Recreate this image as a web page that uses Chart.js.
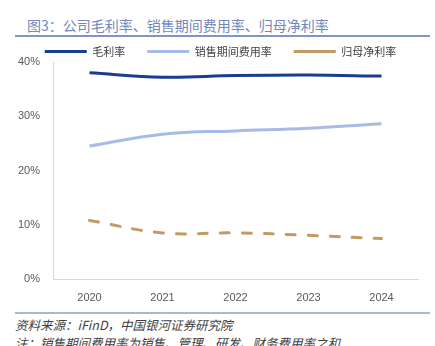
<!DOCTYPE html>
<html><head><meta charset="utf-8">
<script src="https://cdn.jsdelivr.net/npm/chart.js@4"></script>
<style>
html,body{margin:0;padding:0;background:#fff;width:435px;height:346px;overflow:hidden;position:relative;font-family:"Noto Sans CJK SC","Noto Sans",sans-serif;}
#title{position:absolute;left:27px;top:15px;font-size:14px;color:#7287bb;white-space:nowrap;line-height:20px;}
#tline{position:absolute;left:15px;top:35px;width:415px;height:1.5px;background:#8094c6;}
#bline{position:absolute;left:15px;top:312px;width:415px;height:2px;background:#a9b6d8;}
#src{position:absolute;left:15px;top:316px;font-size:12.5px;font-style:italic;color:#404040;white-space:nowrap;line-height:18px;}
#note{position:absolute;left:15px;top:334px;font-size:12.5px;font-style:italic;color:#404040;white-space:nowrap;line-height:18px;}
#wrap{position:absolute;left:0;top:22px;width:435px;height:288px;}
</style></head>
<body>
<div id="title">图3：公司毛利率、销售期间费用率、归母净利率</div>
<div id="tline"></div>
<div id="wrap"><canvas id="c"></canvas></div>
<div id="bline"></div>
<div id="src">资料来源：iFinD，中国银河证券研究院</div>
<div id="note">注：销售期间费用率为销售、管理、研发、财务费用率之和</div>
<script>
const categories = ["2020","2021","2022","2023","2024"];
const grossMargin = [38.0, 37.2, 37.5, 37.6, 37.4];
const expenseRate = [24.5, 26.7, 27.3, 27.8, 28.6];
const netMargin = [10.8, 8.5, 8.5, 8.05, 7.45];
const seriesNames = ["毛利率","销售期间费用率","归母净利率"];
const yTicks = [0, 10, 20, 30, 40];

const legendTweak = {
  id:'legendTweak',
  afterInit(chart){
    const lg = chart.legend;
    if (lg) {
      const origFit = lg.fit.bind(lg);
      lg.fit = function(){ origFit(); this.height -= 5; };
      const origDraw = lg.draw.bind(lg);
      lg.draw = function(){ const ctx = this.ctx; ctx.save(); ctx.translate(3,0); origDraw(); ctx.restore(); };
    }
  }
};

new Chart(document.getElementById('c'), {
  type: 'line',
  data: {
    labels: categories,
    datasets: [
      {label: seriesNames[0], data: grossMargin, borderColor:'#183c8f', backgroundColor:'#183c8f', borderWidth:3, tension:0.4, pointRadius:0, fill:false},
      {label: seriesNames[1], data: expenseRate, borderColor:'#a6bce6', backgroundColor:'#a6bce6', borderWidth:3, tension:0.4, pointRadius:0, fill:false},
      {label: seriesNames[2], data: netMargin, borderColor:'#c19b64', backgroundColor:'#c19b64', borderWidth:3, tension:0.4, pointRadius:0, fill:false, borderDash:[9,13], borderCapStyle:'round'}
    ]
  },
  plugins:[legendTweak],
  options: {
    responsive:true, maintainAspectRatio:false, animation:false,
    layout:{padding:{left:17,right:17,top:2,bottom:0}},
    plugins:{
      tooltip:{enabled:false},
      legend:{
        position:'top',
        labels:{
          usePointStyle:true, pointStyle:'line', pointStyleWidth:42,
          color:'#404040', font:{size:11, family:'"Noto Sans CJK SC"'},
          padding:22, boxHeight:11
        }
      }
    },
    scales:{
      x:{
        offset:true,
        grid:{display:false, drawTicks:false},
        border:{display:true, color:'#d9d9d9', width:1},
        ticks:{color:'#595959', font:{size:11, family:'"Liberation Sans"'}, padding:12},
        afterFit:(s)=>{ s.height = 31; }
      },
      y:{
        min:0, max:40,
        afterBuildTicks:(s)=>{ s.ticks = yTicks.map(v=>({value:v})); },
        grid:{display:false, drawTicks:false},
        border:{display:true, color:'#d9d9d9', width:1},
        ticks:{color:'#595959', font:{size:11, family:'"Liberation Sans"'}, padding:13, callback:(v)=>v+'%'},
        afterFit:(s)=>{ s.width = 36; }
      }
    }
  }
});
</script>
</body></html>
